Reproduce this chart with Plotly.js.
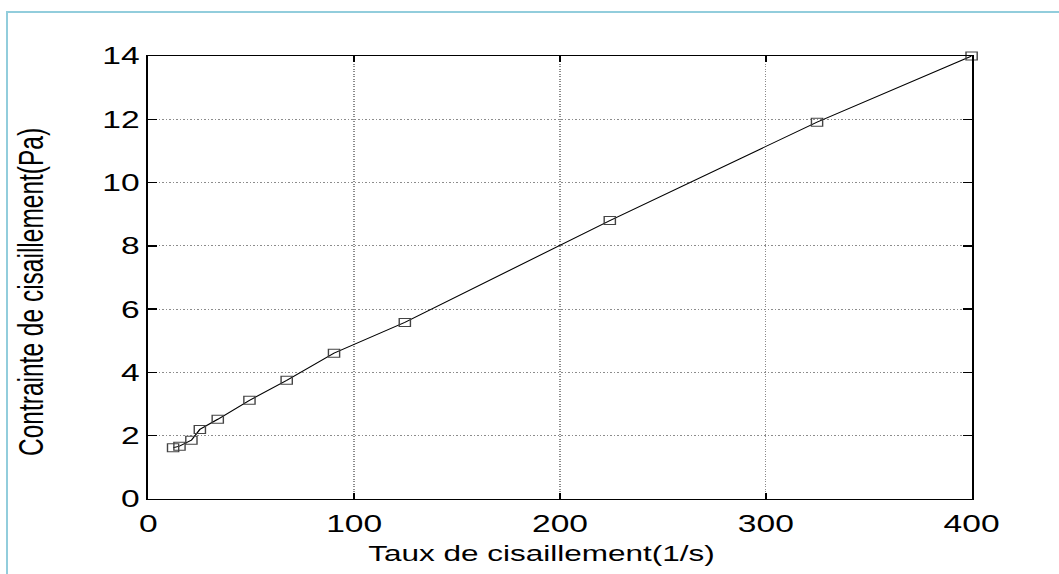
<!DOCTYPE html>
<html>
<head>
<meta charset="utf-8">
<script src="https://cdn.plot.ly/plotly-3.0.1.min.js"></script>
<style>
  html, body { margin: 0; padding: 0; background: #ffffff; width: 1059px; height: 574px; overflow: hidden; }
  #frame { position: absolute; left: 6px; top: 11px; right: 0; bottom: 0;
           border-left: 2px solid #92cddc; border-top: 2px solid #92cddc; }
  /* the figure is laid out narrow and widened horizontally */
  #chart { position: absolute; left: 0; top: 0; width: 756px; height: 574px;
           transform: scaleX(1.4); transform-origin: 0 0; }
</style>
</head>
<body>
<div id="chart"></div>
<div id="frame"></div>
<script>
// Shear rate (1/s) and shear stress (Pa)
const shearRate   = [12.0, 15.1, 20.9, 25.0, 33.7, 49.1, 67.2, 90.2, 124.6, 224.2, 324.9, 400.0];
const shearStress = [1.62, 1.67, 1.86, 2.20, 2.52, 3.12, 3.75, 4.61, 5.58, 8.80, 11.91, 14.0];
const xTicks = [0, 100, 200, 300, 400];
const yTicks = [0, 2, 4, 6, 8, 10, 12, 14];
const xLabel = 'Taux de cisaillement(1/s)';
const yLabel = 'Contrainte de cisaillement(Pa)';

const fontFamily = 'Liberation Sans, Arial, sans-serif';
const tickFont = { family: fontFamily, size: 24, color: '#000000' };

const trace = {
  x: shearRate,
  y: shearStress,
  type: 'scatter',
  mode: 'lines+markers',
  cliponaxis: false,
  line: { color: '#000000', width: 1 },
  marker: { symbol: 'square-open', size: 8, color: '#444444', line: { width: 1, color: '#444444' } },
  hoverinfo: 'skip'
};

const axisCommon = {
  showline: true, linecolor: '#000000', linewidth: 1.4, mirror: 'ticks',
  ticks: 'inside', ticklen: 6, tickwidth: 1.3, tickcolor: '#000000',
  showgrid: true, gridcolor: '#8c8c8c', gridwidth: 1, griddash: '1px,1.5px',
  zeroline: false, tickfont: tickFont, fixedrange: true
};

const layout = {
  width: 756, height: 574,
  margin: { l: 105.7, r: 62.4, t: 56, b: 75, pad: 0 },
  paper_bgcolor: 'rgba(0,0,0,0)', plot_bgcolor: '#ffffff',
  showlegend: false,
  xaxis: Object.assign({}, axisCommon, {
    range: [0, 400], tickmode: 'array', tickvals: xTicks, ticktext: xTicks.map(String),
    ticklabelstandoff: 3
  }),
  yaxis: Object.assign({}, axisCommon, {
    range: [0, 14], tickmode: 'array', tickvals: yTicks, ticktext: yTicks.map(String)
  }),
  annotations: [
    { text: xLabel, xref: 'paper', yref: 'paper', x: 0.5, y: 0,
      xanchor: 'center', yanchor: 'middle', xshift: -13, yshift: -54,
      showarrow: false, font: { family: fontFamily, size: 22.5, color: '#000000' } },
    { text: yLabel, xref: 'paper', yref: 'paper', x: 0, y: 0.5, textangle: -90,
      xanchor: 'center', yanchor: 'middle', xshift: -83.5, yshift: -15,
      showarrow: false, font: { family: fontFamily, size: 24.5, color: '#000000' } }
  ]
};

Plotly.newPlot('chart', [trace], layout, { displayModeBar: false, staticPlot: true });
</script>
</body>
</html>
